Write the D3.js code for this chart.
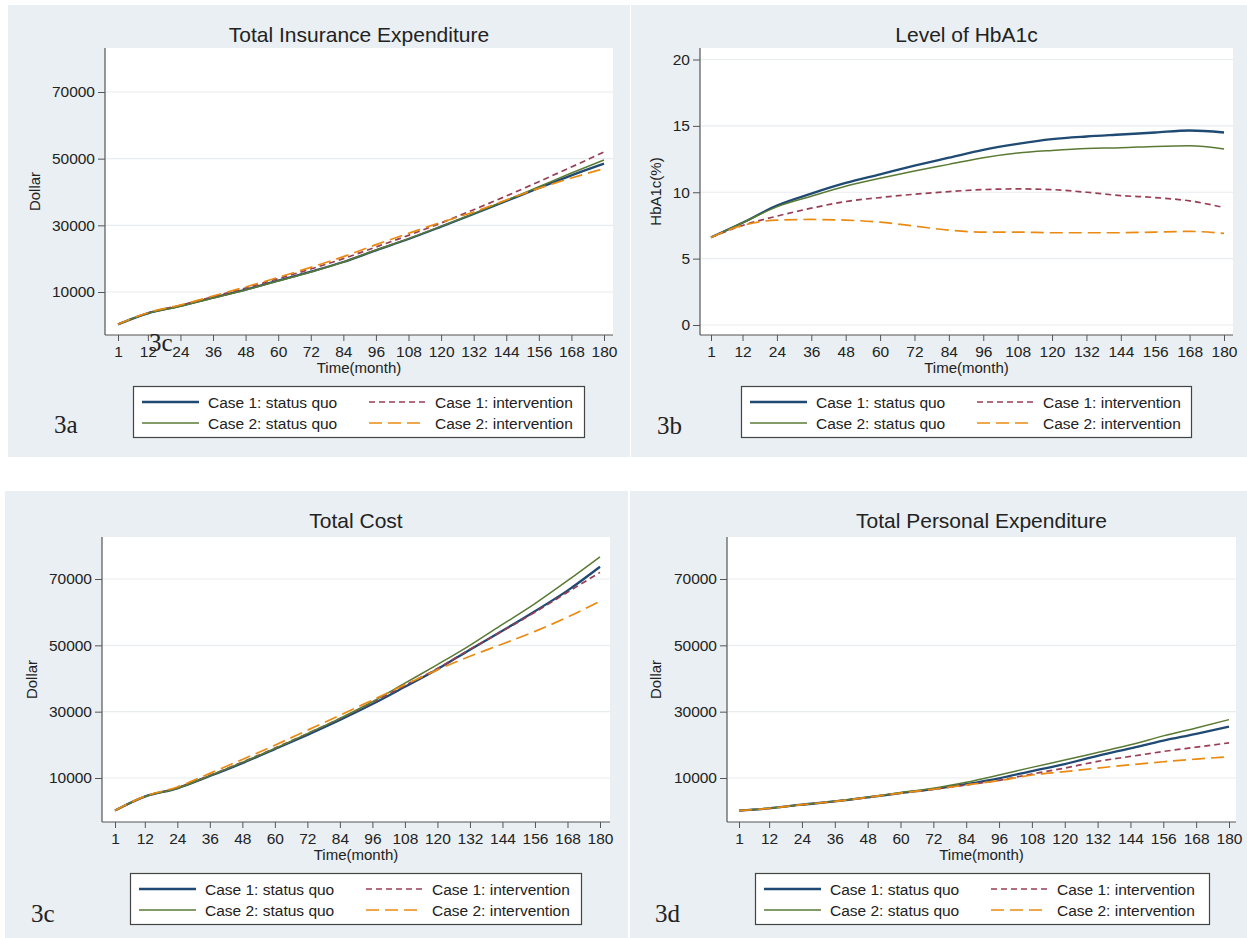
<!DOCTYPE html>
<html>
<head>
<meta charset="utf-8">
<script src="https://cdn.jsdelivr.net/npm/d3@7"></script>
<style>
  body { margin: 0; background: #fff; }
  svg { display: block; }
  text { font-family: "Liberation Sans", Arial, sans-serif; fill: #222; }
</style>
</head>
<body>
<svg id="chart" width="1247" height="938"></svg>
<script>
// ---- data ----
const months = [1, 12, 24, 36, 48, 60, 72, 84, 96, 108, 120, 132, 144, 156, 168, 180];
const monthTicks = [1, 12, 24, 36, 48, 60, 72, 84, 96, 108, 120, 132, 144, 156, 168, 180];
const dollarTicks = [10000, 30000, 50000, 70000];
const hba1cTicks = [0, 5, 10, 15, 20];
const seriesLabels = ["Case 1: status quo", "Case 1: intervention", "Case 2: status quo", "Case 2: intervention"];

// Total insurance expenditure (dollars)
const insuranceCase1StatusQuo   = [300, 3600, 5800, 8300, 10700, 13400, 16100, 19000, 22500, 25900, 29600, 33400, 37300, 41200, 45000, 48500];
const insuranceCase1Intervention = [300, 3700, 6000, 8600, 11200, 14000, 16900, 20000, 23500, 27000, 30700, 34700, 38800, 43100, 47500, 52000];
const insuranceCase2StatusQuo   = [300, 3600, 5700, 8200, 10600, 13300, 16000, 19000, 22600, 26000, 29700, 33500, 37500, 41600, 45700, 49600];
const insuranceCase2Intervention = [300, 3800, 6100, 8800, 11500, 14400, 17400, 20600, 24200, 27600, 30900, 34000, 37600, 41100, 44200, 47000];

// Level of HbA1c (%)
const hba1cCase1StatusQuo   = [6.6, 7.7, 9.0, 9.9, 10.7, 11.35, 12.0, 12.6, 13.2, 13.65, 14.0, 14.2, 14.35, 14.5, 14.65, 14.5];
const hba1cCase1Intervention = [6.6, 7.5, 8.2, 8.8, 9.3, 9.6, 9.85, 10.05, 10.2, 10.25, 10.2, 10.0, 9.75, 9.6, 9.35, 8.85];
const hba1cCase2StatusQuo   = [6.6, 7.7, 8.9, 9.7, 10.45, 11.05, 11.6, 12.1, 12.6, 12.95, 13.15, 13.3, 13.35, 13.45, 13.5, 13.25];
const hba1cCase2Intervention = [6.6, 7.5, 7.9, 7.95, 7.9, 7.75, 7.45, 7.15, 7.0, 7.0, 6.95, 6.95, 6.95, 7.0, 7.05, 6.9];

// Total cost (dollars)
const costCase1StatusQuo   = [200, 4400, 6900, 10600, 14500, 18700, 23000, 27500, 32300, 37500, 42800, 48700, 54400, 60300, 66500, 73700];
const costCase1Intervention = [200, 4400, 7000, 10800, 14800, 19000, 23400, 27900, 32700, 37900, 43000, 48800, 54300, 60000, 66000, 72000];
const costCase2StatusQuo   = [200, 4400, 6900, 10700, 14700, 18900, 23400, 28000, 33000, 38600, 44200, 50000, 56300, 62600, 69500, 76700];
const costCase2Intervention = [200, 4500, 7300, 11400, 15600, 19900, 24400, 28900, 33500, 38100, 42600, 46700, 50400, 54200, 58500, 63300];

// Total personal expenditure (dollars)
const personalCase1StatusQuo   = [150, 850, 1950, 2950, 4150, 5450, 6650, 8150, 9900, 12100, 14200, 16700, 18950, 21250, 23300, 25500];
const personalCase1Intervention = [150, 850, 1950, 2950, 4150, 5450, 6600, 7900, 9300, 11200, 13000, 15000, 16500, 18000, 19300, 20600];
const personalCase2StatusQuo   = [150, 850, 1960, 3000, 4250, 5600, 6900, 8700, 10900, 13200, 15400, 17700, 20000, 22700, 25100, 27600];
const personalCase2Intervention = [150, 850, 1950, 2950, 4150, 5450, 6600, 7900, 9200, 10900, 11900, 13000, 14000, 14900, 15700, 16400];

// ---- styles ----
const lineStyles = [
  { color: "#1f4a73", width: 2.3, dash: null },
  { color: "#983f55", width: 1.7, dash: "6,4" },
  { color: "#5a7a33", width: 1.5, dash: null },
  { color: "#ea8a12", width: 1.7, dash: "13,6" }
];

// ---- layout of the four panels ----
const panels = [
  {
    tag: "3a", title: "Total Insurance Expenditure", yTitle: "Dollar", yTicks: dollarTicks,
    series: [insuranceCase1StatusQuo, insuranceCase1Intervention, insuranceCase2StatusQuo, insuranceCase2Intervention],
    bg: [8, 5, 622, 452], plot: { left: 105, right: 613, top: 48, bottom: 335 },
    xRange: [118, 604], yDomain: [10000, 70000], yRange: [292, 92],
    yTitleX: 40, titleY: 42, legend: [133, 386, 451, 51], tagPos: [54, 433]
  },
  {
    tag: "3b", title: "Level of HbA1c", yTitle: "HbA1c(%)", yTicks: hba1cTicks,
    series: [hba1cCase1StatusQuo, hba1cCase1Intervention, hba1cCase2StatusQuo, hba1cCase2Intervention],
    bg: [631, 5, 616, 452], plot: { left: 700, right: 1233, top: 48, bottom: 335 },
    xRange: [711, 1224], yDomain: [0, 20], yRange: [325, 59.5],
    yTitleX: 661, titleY: 42, legend: [741, 386, 450, 51], tagPos: [657, 434]
  },
  {
    tag: "3c", title: "Total Cost", yTitle: "Dollar", yTicks: dollarTicks,
    series: [costCase1StatusQuo, costCase1Intervention, costCase2StatusQuo, costCase2Intervention],
    bg: [5, 491, 623, 447], plot: { left: 102, right: 610, top: 537, bottom: 822 },
    xRange: [115, 600], yDomain: [10000, 70000], yRange: [778, 579],
    yTitleX: 37, titleY: 528, legend: [130, 873, 451, 51], tagPos: [31, 922]
  },
  {
    tag: "3d", title: "Total Personal Expenditure", yTitle: "Dollar", yTicks: dollarTicks,
    series: [personalCase1StatusQuo, personalCase1Intervention, personalCase2StatusQuo, personalCase2Intervention],
    bg: [630, 491, 617, 447], plot: { left: 727, right: 1236, top: 537, bottom: 822 },
    xRange: [739, 1229], yDomain: [10000, 70000], yRange: [778, 579],
    yTitleX: 661, titleY: 528, legend: [755, 873, 454, 51], tagPos: [655, 922]
  }
];

const svg = d3.select("#chart");
svg.append("rect").attr("width", 1247).attr("height", 938).attr("fill", "#fff");

panels.forEach((p, i) => {
  const g = svg.append("g");
  const pl = p.plot;

  // panel backdrop and plot region
  g.append("rect").attr("x", p.bg[0]).attr("y", p.bg[1]).attr("width", p.bg[2]).attr("height", p.bg[3])
    .attr("fill", "#e9eff2");
  g.append("rect").attr("x", pl.left).attr("y", pl.top)
    .attr("width", pl.right - pl.left).attr("height", pl.bottom - pl.top).attr("fill", "#fff");

  const x = d3.scaleLinear().domain([1, 180]).range(p.xRange);
  const y = d3.scaleLinear().domain(p.yDomain).range(p.yRange);

  // horizontal gridlines
  g.append("g").selectAll("line").data(p.yTicks).join("line")
    .attr("x1", pl.left + 1).attr("x2", pl.right)
    .attr("y1", d => y(d)).attr("y2", d => y(d))
    .attr("stroke", "#e7ecef").attr("stroke-width", 1.2);

  // clip for the series
  const clipId = "clip" + i;
  g.append("clipPath").attr("id", clipId).append("rect")
    .attr("x", pl.left).attr("y", pl.top).attr("width", pl.right - pl.left).attr("height", pl.bottom - pl.top);

  const line = d3.line().x((d, k) => x(months[k])).y(d => y(d)).curve(d3.curveMonotoneX);
  const lines = g.append("g").attr("clip-path", `url(#${clipId})`);
  p.series.forEach((vals, s) => {
    const st = lineStyles[s];
    lines.append("path").datum(vals).attr("d", line)
      .attr("fill", "none").attr("stroke", st.color).attr("stroke-width", st.width)
      .attr("stroke-dasharray", st.dash).attr("stroke-linejoin", "round");
  });

  // axes
  const yAxis = d3.axisLeft(y).tickValues(p.yTicks).tickFormat(d3.format("d"))
    .tickSize(7).tickPadding(3).tickSizeOuter(0);
  const yg = g.append("g").attr("transform", `translate(${pl.left},0)`).call(yAxis);
  yg.select(".domain").attr("d", `M0,${pl.top}V${pl.bottom}`);
  const xAxis = d3.axisBottom(x).tickValues(monthTicks).tickFormat(d3.format("d"))
    .tickSize(6).tickPadding(5).tickSizeOuter(0);
  const xg = g.append("g").attr("transform", `translate(0,${pl.bottom})`).call(xAxis);
  xg.select(".domain").attr("d", `M${pl.left},0H${pl.right}`);
  [yg, xg].forEach(a => {
    a.select(".domain").attr("stroke", "#555").attr("stroke-width", 1.2);
    a.selectAll(".tick line").attr("stroke", "#555");
    a.selectAll(".tick text").attr("fill", "#222").style("font-size", "15.5px")
      .style("font-family", '"Liberation Sans", Arial, sans-serif');
  });

  // titles
  const cx = (pl.left + pl.right) / 2;
  g.append("text").attr("x", cx).attr("y", p.titleY).attr("text-anchor", "middle")
    .style("font-size", "21px").text(p.title);
  g.append("text").attr("x", cx).attr("y", pl.bottom + 38).attr("text-anchor", "middle")
    .style("font-size", "15px").text("Time(month)");
  g.append("text").attr("transform", `translate(${p.yTitleX},${(pl.top + pl.bottom) / 2}) rotate(-90)`)
    .attr("text-anchor", "middle").style("font-size", "15px").text(p.yTitle);

  // legend
  const [lx, ly, lw, lh] = p.legend;
  const lg = g.append("g");
  lg.append("rect").attr("x", lx + 0.5).attr("y", ly + 0.5).attr("width", lw).attr("height", lh)
    .attr("fill", "#fff").attr("stroke", "#444").attr("stroke-width", 1.2);
  seriesLabels.forEach((lab, s) => {
    const col = s % 2, row = Math.floor(s / 2);
    const ox = lx + (col ? 236 : 9);
    const oy = ly + (row ? 37 : 16);
    const st = lineStyles[s];
    lg.append("line").attr("x1", ox).attr("x2", ox + 57).attr("y1", oy).attr("y2", oy)
      .attr("stroke", st.color).attr("stroke-width", st.width).attr("stroke-dasharray", st.dash);
    lg.append("text").attr("x", ox + 66).attr("y", oy).attr("dy", "0.36em")
      .style("font-size", "15.5px").text(lab);
  });

  // panel tag
  g.append("text").attr("x", p.tagPos[0]).attr("y", p.tagPos[1])
    .style("font-family", '"Liberation Serif", "Times New Roman", serif').style("font-size", "25px")
    .attr("fill", "#000").text(p.tag);
});

// stray panel tag sitting on the first panel's month axis
svg.append("text").attr("x", 149).attr("y", 351)
  .style("font-family", '"Liberation Serif", "Times New Roman", serif').style("font-size", "25px")
  .attr("fill", "#000").text("3c");
</script>
</body>
</html>
